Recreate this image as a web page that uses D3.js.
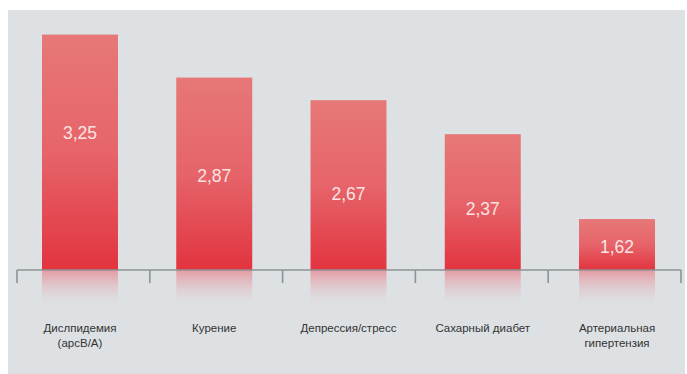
<!DOCTYPE html>
<html><head><meta charset="utf-8">
<script src="https://cdn.jsdelivr.net/npm/d3@7"></script>
<style>html,body{margin:0;padding:0;background:#fff;}svg{display:block;}</style>
</head><body>
<script>
const categories = [["Дислпидемия","(арсВ/А)"],["Курение"],["Депрессия/стресс"],["Сахарный диабет"],["Артериальная","гипертензия"]];
const values = [3.25, 2.87, 2.67, 2.37, 1.62];
const valueLabels = ["3,25","2,87","2,67","2,37","1,62"];

const W = 687, H = 374;
const svg = d3.select("body").append("svg").attr("width", W).attr("height", H);
const defs = svg.append("defs");

const g1 = defs.append("linearGradient").attr("id","barGrad").attr("x1",0).attr("y1",0).attr("x2",0).attr("y2",1);
g1.append("stop").attr("offset","0%").attr("stop-color","#e77877");
g1.append("stop").attr("offset","50%").attr("stop-color","#e6646a");
g1.append("stop").attr("offset","100%").attr("stop-color","#e2343f");

const g2 = defs.append("linearGradient").attr("id","reflGrad").attr("x1",0).attr("y1",0).attr("x2",0).attr("y2",1);
g2.append("stop").attr("offset","0%").attr("stop-color","#e49aa1").attr("stop-opacity",1);
g2.append("stop").attr("offset","100%").attr("stop-color","#dde1e4").attr("stop-opacity",0);

// panel background
svg.append("rect").attr("x",8).attr("y",10).attr("width",677).attr("height",364).attr("fill","#dde1e4");

const axisY = 270;
const x = d3.scaleBand().domain(d3.range(values.length)).range([13, 684]).paddingInner(0.434).paddingOuter(0.216);
const y = d3.scaleLinear().domain([1.17, 3.4]).range([axisY, 17.6]);

// reflections
svg.selectAll("rect.refl").data(values).enter().append("rect").attr("class","refl")
  .attr("x",(d,i)=>x(i)).attr("y",axisY).attr("width",x.bandwidth()).attr("height",40)
  .attr("fill","url(#reflGrad)");

// bars
svg.selectAll("rect.bar").data(values).enter().append("rect").attr("class","bar")
  .attr("x",(d,i)=>x(i)).attr("y",d=>y(d)).attr("width",x.bandwidth()).attr("height",d=>axisY-y(d))
  .attr("fill","url(#barGrad)");

// axis line with ticks at category boundaries
const x0 = 17, x1 = 681;
const ticks = d3.range(values.length+1).map(i => x0 + (x1-x0)*i/values.length);
const axisG = svg.append("g").attr("stroke","#8d9296").attr("stroke-width",1.6).attr("fill","none");
axisG.append("line").attr("x1",x0).attr("x2",x1).attr("y1",axisY).attr("y2",axisY);
axisG.selectAll("line.t").data(ticks).enter().append("line").attr("class","t")
  .attr("x1",d=>d).attr("x2",d=>d).attr("y1",axisY).attr("y2",283);

// value labels
svg.selectAll("text.val").data(values).enter().append("text").attr("class","val")
  .attr("x",(d,i)=>x(i)+x.bandwidth()/2)
  .attr("y",d=>{const h=axisY-y(d); return y(d)+Math.min(98,h*0.55);})
  .attr("dy","0.36em").attr("text-anchor","middle")
  .attr("font-family","Liberation Sans, Arial, sans-serif").attr("font-size",17.5)
  .attr("fill","#fbe4e2").text((d,i)=>valueLabels[i]);

// category labels
const cat = svg.selectAll("text.cat").data(categories).enter().append("text").attr("class","cat")
  .attr("text-anchor","middle").attr("font-family","Liberation Sans, Arial, sans-serif")
  .attr("font-size",11.5).attr("fill","#333");
cat.each(function(lines,i){
  const t = d3.select(this);
  lines.forEach((l,j)=>{
    t.append("tspan").attr("x",x(i)+x.bandwidth()/2).attr("y",332+j*15).text(l);
  });
});
</script>
</body></html>
